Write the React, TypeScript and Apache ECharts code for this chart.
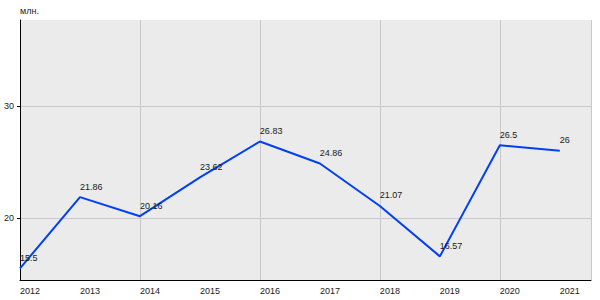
import React, { useEffect, useRef } from "react";
import * as echarts from "echarts";

const years = [2012, 2013, 2014, 2015, 2016, 2017, 2018, 2019, 2020, 2021];
const values = [15.5, 21.86, 20.16, 23.62, 26.83, 24.86, 21.07, 16.57, 26.5, 26];
const yTicks = [20, 30];
const unitLabel = "млн.";

const FONT = 'Arial, "Liberation Sans", sans-serif';

export default function App() {
  const ref = useRef<HTMLDivElement>(null);
  useEffect(() => {
    if (!ref.current) return;
    const chart = echarts.init(ref.current, null, { renderer: "svg" });
    chart.setOption({
      animation: false,
      grid: {
        left: 20,
        top: 20,
        right: 9,
        bottom: 20,
        show: true,
        backgroundColor: "#ebebeb",
        borderWidth: 0,
      },
      xAxis: {
        type: "value",
        min: 2012,
        max: 2021.52,
        axisLine: { show: true, onZero: false, lineStyle: { color: "#000", width: 1 } },
        axisTick: { show: false },
        axisLabel: {
          customValues: years,
          formatter: (v: number) => String(v),
          align: "left",
          margin: 6,
          color: "#1a1a1a",
          fontSize: 9,
          fontFamily: FONT,
        },
        splitLine: { show: true, lineStyle: { color: "#c8c8c8", width: 1 } },
      },
      yAxis: {
        type: "value",
        min: 14.46,
        max: 37.68,
        name: unitLabel,
        nameLocation: "end",
        nameGap: 5,
        nameTextStyle: { align: "left", color: "#1a1a1a", fontSize: 9, fontFamily: FONT },
        axisLine: { show: true, onZero: false, lineStyle: { color: "#000", width: 1 } },
        axisTick: { show: true, length: 3, customValues: yTicks, lineStyle: { color: "#000" } },
        axisLabel: {
          customValues: yTicks,
          margin: 6,
          color: "#1a1a1a",
          fontSize: 9,
          fontFamily: FONT,
        },
        splitLine: { show: true, lineStyle: { color: "#c8c8c8", width: 1 } },
      },
      series: [
        {
          type: "line",
          data: years.map((y, i) => [y, values[i]]),
          symbol: "circle",
          symbolSize: 0.1,
          showSymbol: true,
          itemStyle: { color: "#0040f0" },
          lineStyle: { color: "#0040f0", width: 2 },
          label: {
            show: true,
            position: [0, -15],
            formatter: (p: any) => String(p.value[1]),
            color: "#1a1a1a",
            fontSize: 9,
            fontFamily: FONT,
          },
          emphasis: { disabled: true },
        },
      ],
    });
    return () => chart.dispose();
  }, []);
  return (
    <div
      ref={ref}
      style={{ position: "absolute", left: 0, top: 0, width: 600, height: 300 }}
    />
  );
}
